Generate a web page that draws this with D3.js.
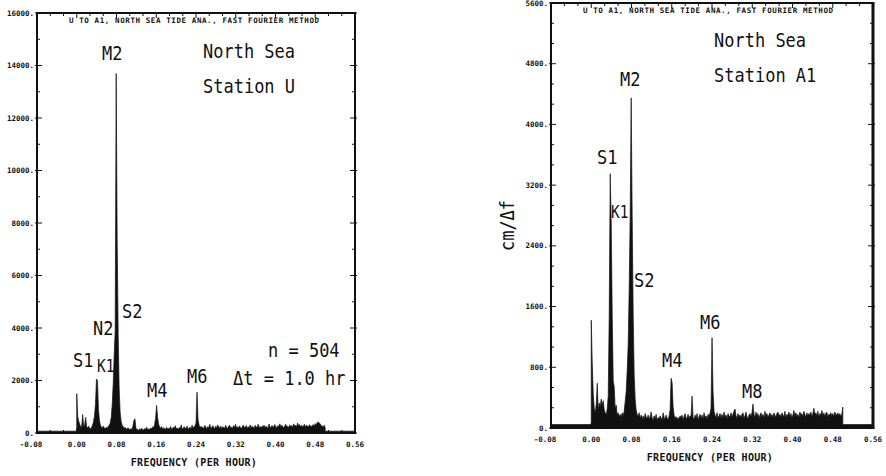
<!DOCTYPE html>
<html>
<head>
<meta charset="utf-8">
<script src="https://cdn.jsdelivr.net/npm/d3@7"></script>
<style>
  body { margin: 0; background: #fff; }
  svg { display: block; }
  text { font-family: "DejaVu Sans Mono", monospace; fill: #111; }
  .tick-label { font-size: 7.5px; font-weight: bold; }
  .axis-title { font-size: 10px; font-weight: bold; }
  .plot-title { font-size: 7.5px; font-weight: bold; letter-spacing: 0.6px; }
</style>
</head>
<body>
<svg id="chart" width="886" height="476"></svg>
<script>
// record length, so spectral estimates sit at k / 504 cycles per hour
const nSamples = 504;

// Station U amplitude (cm/df), k = 0 .. 252
const ampU = [
  1500, 620, 450, 330, 250, 210, 700, 260, 300, 600,
  240, 200, 260, 180, 160, 210, 300, 420, 650, 1100,
  2050, 2000, 900, 480, 300, 240, 180, 260, 200, 150,
  220, 170, 260, 300, 380, 600, 1100, 1900, 3000, 3900,
  13700, 7400, 3800, 1700, 800, 450, 300, 250, 180, 220,
  160, 140, 200, 150, 120, 170, 130, 260, 480, 540,
  200, 110, 140, 90, 160, 120, 180, 100, 130, 170,
  140, 220, 120, 160, 130, 190, 150, 240, 200, 320,
  560, 1050, 600, 340, 230, 170, 250, 140, 200, 160,
  130, 220, 150, 180, 120, 250, 170, 140, 230, 160,
  280, 150, 190, 130, 210, 170, 310, 140, 180, 240,
  150, 200, 260, 130, 190, 220, 160, 300, 180, 240,
  280, 380, 1550, 520, 310, 200, 260, 180, 230, 160,
  290, 210, 170, 250, 190, 330, 160, 220, 280, 200,
  170, 260, 190, 310, 230, 180, 270, 150, 240, 200,
  180, 290, 220, 160, 250, 300, 190, 230, 170, 280,
  210, 330, 200, 240, 180, 270, 220, 160, 250, 300,
  190, 230, 280, 170, 240, 200, 310, 180, 260, 220,
  170, 290, 240, 200, 330, 210, 250, 180, 270, 230,
  300, 190, 260, 220, 180, 340, 240, 200, 290, 210,
  260, 320, 230, 190, 280, 250, 350, 220, 300, 240,
  200, 270, 330, 230, 260, 190, 310, 250, 280, 220,
  350, 260, 300, 230, 380, 280, 320, 250, 290, 240,
  270, 330, 220, 300, 260, 240, 310, 280, 230, 290,
  320, 250, 360, 300, 400, 420, 380, 340, 280, 260,
  240, 300, 200
];

// Station A1 amplitude (cm/df), k = 0 .. 252
const ampA1 = [
  1420, 860, 450, 260, 200, 310, 590, 240, 330, 280,
  380, 300, 360, 240, 200, 170, 250, 420, 1500, 3350,
  2700, 1500, 620, 540, 250, 300, 170, 200, 150, 180,
  140, 200, 160, 220, 350, 480, 760, 1100, 1830, 2800,
  4350, 2800, 1500, 700, 380, 235, 180, 150, 200, 130,
  170, 120, 160, 110, 190, 140, 130, 170, 120, 150,
  210, 130, 110, 160, 120, 180, 100, 140, 120, 160,
  130, 110, 200, 140, 120, 170, 130, 110, 160, 240,
  655, 600, 280, 170, 130, 150, 110, 140, 120, 160,
  130, 170, 110, 150, 190, 120, 140, 180, 130, 160,
  150, 420, 140, 120, 170, 130, 190, 110, 150, 180,
  130, 170, 120, 200, 140, 160, 120, 180, 150, 200,
  260, 1190, 480, 220, 170, 140, 200, 130, 160, 190,
  140, 180, 130, 210, 150, 170, 120, 190, 160, 140,
  200, 150, 180, 220, 250, 160, 130, 190, 150, 170,
  140, 180, 200, 130, 160, 210, 150, 120, 170, 190,
  150, 200, 315, 180, 140, 210, 160, 190, 130, 170,
  200, 150, 180, 130, 220, 160, 190, 140, 170, 200,
  150, 180, 130, 200, 170, 140, 190, 210, 160, 180,
  140, 200, 170, 150, 220, 130, 180, 160, 210, 150,
  190, 140, 170, 230, 160, 200, 150, 180, 140, 210,
  170, 190, 150, 220, 180, 140, 200, 160, 190, 170,
  210, 150, 190, 260, 180, 200, 160, 220, 140, 190,
  170, 230, 160, 200, 150, 190, 210, 140, 180, 170,
  200, 160, 190, 150, 210, 180, 170, 200, 160, 190,
  150, 180, 275
];

// low level drawn outside the 0 .. 0.5 band
const floorU = 70;
const floorA1 = 45;

const xTicks = [-0.08, 0, 0.08, 0.16, 0.24, 0.32, 0.40, 0.48, 0.56];
const yTicksU = [0, 2000, 4000, 6000, 8000, 10000, 12000, 14000, 16000];
const yTicksA1 = [0, 800, 1600, 2400, 3200, 4000, 4800, 5600];

const plotTitle = "U TO A1, NORTH SEA TIDE ANA., FAST FOURIER METHOD";
const xTitle = "FREQUENCY (PER HOUR)";

// constituent labels, placed at (frequency, amplitude)
const labelsU = [
  { text: "M2", f: 0.0508, v: 14210 },
  { text: "S2", f: 0.0911, v: 4380 },
  { text: "N2", f: 0.0327, v: 3730 },
  { text: "S1", f: -0.0075, v: 2515 },
  { text: "K1", f: 0.0408, v: 2325, small: true },
  { text: "M4", f: 0.1414, v: 1370 },
  { text: "M6", f: 0.2219, v: 1905 },
  { text: "North Sea", f: 0.2541, v: 14290 },
  { text: "Station U", f: 0.2541, v: 12955 },
  { text: "n = 504", f: 0.3849, v: 2895 },
  { text: "\u0394t = 1.0 hr", f: 0.3145, v: 1830 }
];

const labelsA1 = [
  { text: "M2", f: 0.0571, v: 4508 },
  { text: "S1", f: 0.0114, v: 3480 },
  { text: "K1", f: 0.0393, v: 2768, small: true },
  { text: "S2", f: 0.085, v: 1858 },
  { text: "M6", f: 0.2161, v: 1305 },
  { text: "M4", f: 0.1406, v: 804 },
  { text: "M8", f: 0.2996, v: 395 },
  { text: "North Sea", f: 0.244, v: 5022 },
  { text: "Station A1", f: 0.244, v: 4560 }
];

const svg = d3.select("#chart");

function drawPanel(opt) {
  const x = d3.scaleLinear().domain([-0.08, 0.56]).range([opt.left, opt.right]);
  const y = d3.scaleLinear().domain([0, opt.yMax]).range([opt.bottom, opt.top]);
  const g = svg.append("g");

  const series = [{ f: -0.08, v: opt.floor }, { f: 0, v: opt.floor }]
    .concat(opt.amps.map((v, i) => ({ f: i / nSamples, v })))
    .concat([{ f: 0.5, v: opt.floor }, { f: 0.56, v: opt.floor }]);

  const area = d3.area()
    .x((d) => x(d.f))
    .y0(y(0))
    .y1((d) => y(d.v));

  g.append("path")
    .datum(series)
    .attr("d", area)
    .attr("fill", "#111")
    .attr("stroke", "#111")
    .attr("stroke-width", 0.7)
    .attr("stroke-linejoin", "miter");

  // frame
  g.append("rect")
    .attr("x", opt.left)
    .attr("y", opt.top)
    .attr("width", opt.right - opt.left)
    .attr("height", opt.bottom - opt.top)
    .attr("fill", "none")
    .attr("stroke", "#111")
    .attr("stroke-width", 2);

  g.append("line")
    .attr("x1", opt.right).attr("x2", opt.right)
    .attr("y1", opt.top).attr("y2", opt.bottom)
    .attr("stroke", "#111")
    .attr("stroke-width", opt.rightWidth);

  // minor and major ticks on all four sides
  const xStep = 0.08 / 3;
  const xMinor = d3.range(0, 25).map((i) => -0.08 + i * xStep);
  const yStep = opt.yMinorStep;
  const yMinor = d3.range(0, Math.round(opt.yMax / yStep) + 1).map((i) => i * yStep);

  const ticks = g.append("g").attr("stroke", "#111").attr("stroke-width", 1);
  xMinor.forEach((f) => {
    const len = xTicks.some((t) => Math.abs(t - f) < 1e-6) ? 5 : 3;
    ticks.append("line").attr("x1", x(f)).attr("x2", x(f)).attr("y1", opt.bottom).attr("y2", opt.bottom - len);
    ticks.append("line").attr("x1", x(f)).attr("x2", x(f)).attr("y1", opt.top).attr("y2", opt.top + len);
  });
  yMinor.forEach((v) => {
    const major = opt.yTicks.includes(Math.round(v));
    const len = major ? 5 : 3;
    ticks.append("line").attr("x1", opt.left - (major ? 2 : 0)).attr("x2", opt.left + len).attr("y1", y(v)).attr("y2", y(v));
    ticks.append("line").attr("x1", opt.right + (major ? 2 : 0)).attr("x2", opt.right - len).attr("y1", y(v)).attr("y2", y(v));
  });

  // tick labels
  g.selectAll(".ylab")
    .data(opt.yTicks)
    .join("text")
    .attr("class", "tick-label")
    .attr("x", opt.left - 3)
    .attr("y", (d) => y(d))
    .attr("dy", "0.35em")
    .attr("text-anchor", "end")
    .text((d) => d + ".");

  g.selectAll(".xlab")
    .data(xTicks)
    .join("text")
    .attr("class", "tick-label")
    .attr("x", (d) => x(d) - (d < 0 ? 6 : 0))
    .attr("y", opt.bottom + 14)
    .attr("text-anchor", "middle")
    .text((d) => d.toFixed(2));

  g.append("text")
    .attr("class", "plot-title")
    .attr("x", opt.left + 32)
    .attr("y", opt.top + 10)
    .text(plotTitle);

  g.append("text")
    .attr("class", "axis-title")
    .attr("x", (opt.left + opt.right) / 2 - 2)
    .attr("y", opt.bottom + 33)
    .attr("text-anchor", "middle")
    .attr("letter-spacing", 0.3)
    .text(xTitle);

  opt.labels.forEach((d) => {
    g.append("text")
      .attr("transform", `translate(${x(d.f)},${y(d.v)}) scale(0.85,1)`)
      .attr("font-size", d.small ? 17 : 20)
      .text(d.text);
  });

  if (opt.yTitle) {
    g.append("text")
      .attr("transform", `translate(${opt.left - 37},${(opt.top + opt.bottom) / 2 + 10}) rotate(-90) scale(0.85,1)`)
      .attr("text-anchor", "middle")
      .attr("font-size", 20)
      .text(opt.yTitle);
  }
}

drawPanel({
  left: 37, right: 355, top: 13, bottom: 433,
  yMax: 16000, yTicks: yTicksU, yMinorStep: 1000,
  amps: ampU, floor: floorU, labels: labelsU, rightWidth: 2
});

drawPanel({
  left: 551, right: 873, top: 3, bottom: 428,
  yMax: 5600, yTicks: yTicksA1, yMinorStep: 800 / 3,
  amps: ampA1, floor: floorA1, labels: labelsA1, rightWidth: 3,
  yTitle: "cm/\u0394f"
});
</script>
</body>
</html>
